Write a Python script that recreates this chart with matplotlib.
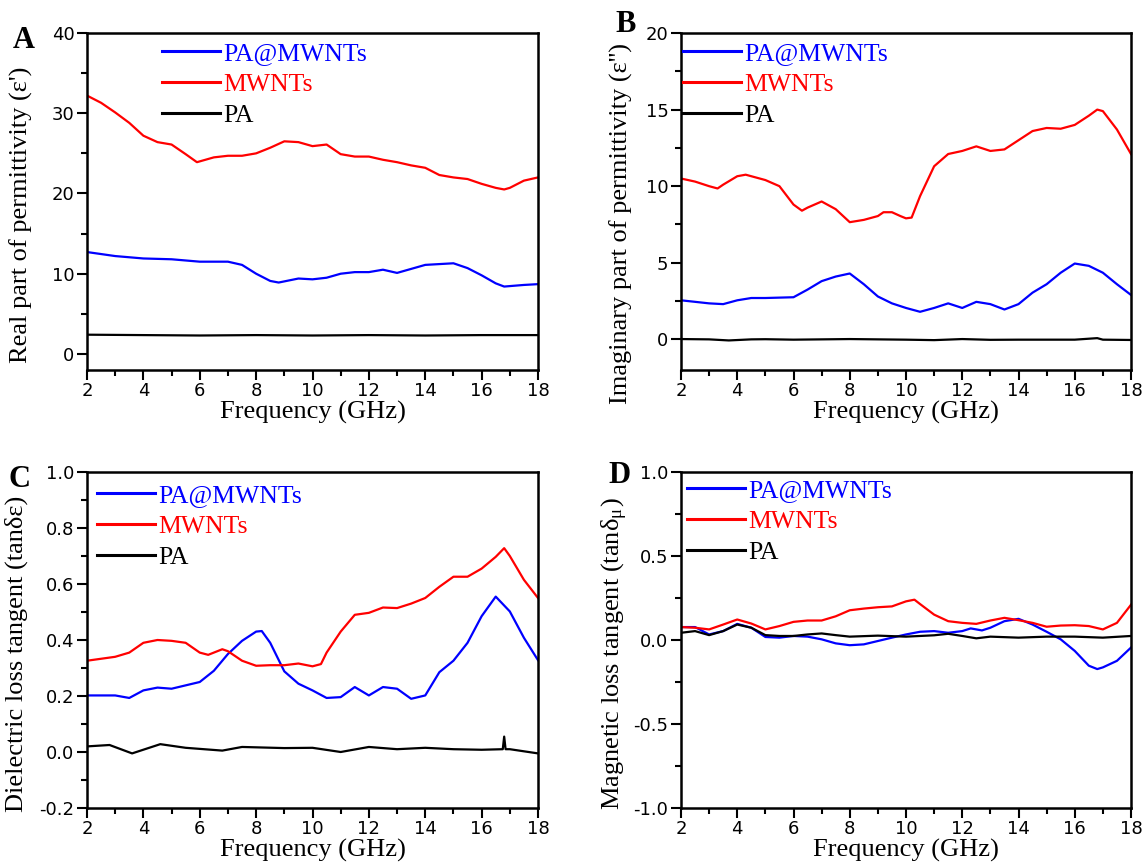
import matplotlib
matplotlib.use("Agg")
import matplotlib.pyplot as plt
from matplotlib.ticker import MultipleLocator, FormatStrFormatter

plt.rcParams['font.family'] = 'Liberation Serif'
plt.rcParams['mathtext.fontset'] = 'stix'

labels = ["PA@MWNTs", "MWNTs", "PA"]
colors = ["#0000ff", "#ff0000", "#000000"]

# A: real part of permittivity
a_blue_x = [2, 3, 4, 5, 6, 7, 7.5, 8, 8.5, 8.8, 9.5, 10, 10.5, 11, 11.5, 12, 12.5, 13, 13.5, 14, 14.5, 15, 15.5, 16, 16.5, 16.8, 17.5, 18]
a_blue_y = [12.7, 12.2, 11.9, 11.8, 11.5, 11.5, 11.1, 10.0, 9.1, 8.9, 9.4, 9.3, 9.5, 10.0, 10.2, 10.2, 10.5, 10.1, 10.6, 11.1, 11.2, 11.3, 10.7, 9.8, 8.8, 8.4, 8.6, 8.7]
a_red_x = [2, 2.5, 3, 3.5, 4, 4.5, 5, 5.5, 5.9, 6.5, 7, 7.5, 8, 8.5, 9, 9.5, 10, 10.5, 11, 11.5, 12, 12.5, 13, 13.5, 14, 14.5, 15, 15.5, 16, 16.5, 16.8, 17, 17.5, 18]
a_red_y = [32.2, 31.3, 30.1, 28.8, 27.2, 26.4, 26.1, 24.9, 23.9, 24.5, 24.7, 24.7, 25.0, 25.7, 26.5, 26.4, 25.9, 26.1, 24.9, 24.6, 24.6, 24.2, 23.9, 23.5, 23.2, 22.3, 22.0, 21.8, 21.2, 20.7, 20.5, 20.7, 21.6, 22.0]
a_black_x = [2, 4, 6, 8, 10, 12, 14, 16, 18]
a_black_y = [2.4, 2.35, 2.3, 2.35, 2.3, 2.35, 2.3, 2.35, 2.35]

# B: imaginary part of permittivity
b_blue_x = [2, 3, 3.5, 4, 4.5, 5, 6, 6.5, 7, 7.5, 8, 8.5, 9, 9.5, 10, 10.5, 11, 11.5, 12, 12.5, 13, 13.5, 14, 14.5, 15, 15.5, 16, 16.5, 17, 17.5, 18]
b_blue_y = [2.55, 2.35, 2.3, 2.55, 2.7, 2.7, 2.75, 3.25, 3.8, 4.1, 4.3, 3.6, 2.8, 2.35, 2.05, 1.8, 2.05, 2.35, 2.05, 2.45, 2.3, 1.95, 2.3, 3.05, 3.6, 4.35, 4.95, 4.8, 4.35, 3.6, 2.9]
b_red_x = [2, 2.5, 3, 3.3, 3.5, 4, 4.3, 4.5, 5, 5.5, 6, 6.3, 6.5, 7, 7.5, 8, 8.5, 9, 9.2, 9.5, 9.8, 10, 10.2, 10.5, 11, 11.5, 12, 12.5, 13, 13.5, 14, 14.5, 15, 15.5, 16, 16.5, 16.8, 17, 17.5, 18]
b_red_y = [10.5, 10.3, 10.0, 9.85, 10.1, 10.65, 10.75, 10.65, 10.4, 10.0, 8.8, 8.4, 8.6, 9.0, 8.5, 7.65, 7.8, 8.05, 8.3, 8.3, 8.05, 7.9, 7.95, 9.35, 11.3, 12.1, 12.3, 12.6, 12.3, 12.4, 13.0, 13.6, 13.8, 13.75, 14.0, 14.6, 15.0, 14.9, 13.7, 12.1]
b_black_x = [2, 3, 3.7, 4.5, 5, 6, 7, 8, 9, 10, 11, 12, 13, 14, 15, 16, 16.8, 17, 18]
b_black_y = [0.02, 0.0, -0.07, 0.0, 0.01, -0.02, 0.0, 0.02, 0.0, -0.02, -0.05, 0.02, -0.03, -0.02, -0.02, -0.02, 0.08, -0.02, -0.04]

# C: dielectric loss tangent
c_blue_x = [2, 3, 3.5, 4, 4.5, 5, 6, 6.5, 7, 7.5, 8, 8.2, 8.5, 9, 9.5, 10, 10.5, 11, 11.5, 12, 12.5, 13, 13.5, 14, 14.5, 15, 15.5, 16, 16.5, 17, 17.5, 18]
c_blue_y = [0.202, 0.202, 0.193, 0.22, 0.23, 0.226, 0.25, 0.29, 0.35, 0.397, 0.43, 0.432, 0.39, 0.288, 0.244, 0.22, 0.193, 0.196, 0.232, 0.202, 0.232, 0.226, 0.19, 0.202, 0.285, 0.326, 0.39, 0.485, 0.555, 0.502, 0.408, 0.328]
c_red_x = [2, 3, 3.5, 4, 4.5, 5, 5.5, 6, 6.3, 6.8, 7, 7.5, 8, 8.5, 9, 9.5, 10, 10.3, 10.5, 11, 11.5, 12, 12.5, 13, 13.5, 14, 14.5, 15, 15.5, 16, 16.5, 16.8, 17, 17.5, 18]
c_red_y = [0.326, 0.34, 0.355, 0.39, 0.40, 0.397, 0.39, 0.355, 0.347, 0.367, 0.36, 0.326, 0.308, 0.31, 0.31, 0.316, 0.306, 0.314, 0.355, 0.43, 0.49, 0.497, 0.516, 0.514, 0.53, 0.55, 0.59, 0.626, 0.626, 0.655, 0.697, 0.728, 0.70, 0.615, 0.55]
c_black_x = [2, 2.8, 3.6, 4.6, 5.5, 6.8, 7.5, 9, 10, 11, 12, 13, 14, 15, 16, 16.75, 16.8, 16.85, 17, 18]
c_black_y = [0.02, 0.025, -0.005, 0.028, 0.015, 0.005, 0.018, 0.014, 0.015, 0.0, 0.018, 0.01, 0.015, 0.01, 0.008, 0.01, 0.055, 0.01, 0.01, -0.005]

# D: magnetic loss tangent
d_blue_x = [2, 2.5, 3, 3.5, 4, 4.5, 5, 5.5, 6, 6.5, 7, 7.5, 8, 8.5, 9, 9.5, 10, 10.5, 11, 11.5, 12, 12.3, 12.7, 13, 13.5, 14, 14.5, 15, 15.5, 16, 16.5, 16.8, 17, 17.5, 18]
d_blue_y = [0.077, 0.077, 0.033, 0.053, 0.096, 0.073, 0.018, 0.014, 0.024, 0.02, 0.004, -0.02, -0.031, -0.026, -0.006, 0.014, 0.033, 0.049, 0.053, 0.043, 0.053, 0.069, 0.057, 0.073, 0.112, 0.126, 0.092, 0.049, 0.004, -0.065, -0.153, -0.173, -0.163, -0.124, -0.045]
d_red_x = [2, 2.5, 3, 3.5, 4, 4.5, 5, 5.5, 6, 6.5, 7, 7.5, 8, 8.5, 9, 9.5, 10, 10.3, 10.5, 11, 11.5, 12, 12.5, 13, 13.5, 14, 14.5, 15, 15.5, 16, 16.5, 17, 17.5, 18]
d_red_y = [0.077, 0.073, 0.063, 0.092, 0.122, 0.098, 0.063, 0.083, 0.108, 0.116, 0.116, 0.141, 0.177, 0.187, 0.195, 0.2, 0.23, 0.24, 0.214, 0.151, 0.112, 0.102, 0.096, 0.116, 0.132, 0.118, 0.102, 0.079, 0.086, 0.088, 0.083, 0.063, 0.102, 0.21]
d_black_x = [2, 2.5, 3, 3.5, 4, 4.5, 5, 5.5, 6, 6.5, 7, 7.5, 8, 9, 10, 11, 11.5, 12, 12.5, 13, 14, 15, 16, 17, 18]
d_black_y = [0.043, 0.053, 0.029, 0.053, 0.092, 0.073, 0.029, 0.024, 0.024, 0.033, 0.039, 0.029, 0.02, 0.026, 0.02, 0.028, 0.037, 0.024, 0.01, 0.02, 0.014, 0.02, 0.02, 0.014, 0.024]

W, H = 1148, 868
fig = plt.figure(figsize=(W / 100, H / 100), dpi=100)


def make_ax(left, top, right, bottom):
    return fig.add_axes([left / W, 1 - bottom / H, (right - left) / W, (bottom - top) / H])


panels = [
    dict(box=(87, 33, 538, 370), data=[(a_blue_x, a_blue_y), (a_red_x, a_red_y), (a_black_x, a_black_y)],
         ylim=(-2, 40), major=10, minor=5, fmt="%d", ylabel="Real part of permittivity (ε')",
         letter="A", lpos=(13, 48), leg=(0.166, 0.972), ylx=-0.12, yly=0.46),
    dict(box=(681, 33, 1131, 370), data=[(b_blue_x, b_blue_y), (b_red_x, b_red_y), (b_black_x, b_black_y)],
         ylim=(-2, 20), major=5, minor=2.5, fmt="%d", ylabel="Imaginary part of permittivity (ε'')",
         letter="B", lpos=(615, 32), leg=(0.004, 0.972), ylx=-0.107, yly=0.435),
    dict(box=(87, 472, 538, 808), data=[(c_blue_x, c_blue_y), (c_red_x, c_red_y), (c_black_x, c_black_y)],
         ylim=(-0.2, 1.0), major=0.2, minor=0.1, fmt="%.1f", ylabel="Dielectric loss tangent (tanδε)",
         letter="C", lpos=(8, 487), leg=(0.022, 0.965), ylx=-0.131, yly=0.46),
    dict(box=(681, 472, 1131, 808), data=[(d_blue_x, d_blue_y), (d_red_x, d_red_y), (d_black_x, d_black_y)],
         ylim=(-1.0, 1.0), major=0.5, minor=0.25, fmt="%.1f",
         ylabel=r"Magnetic loss tangent (tanδ$_\mathregular{μ}$)",
         letter="D", lpos=(608, 483), leg=(0.013, 0.98), ylx=-0.113, yly=0.46),
]

for p in panels:
    ax = make_ax(*p["box"])
    for (x, y), lab, col in zip(p["data"], labels, colors):
        ax.plot(x, y, color=col, lw=1.6, label=lab)
    ax.set_xlim(2, 18)
    ax.set_ylim(*p["ylim"])
    ax.xaxis.set_major_locator(MultipleLocator(2))
    ax.xaxis.set_minor_locator(MultipleLocator(1))
    ax.yaxis.set_major_locator(MultipleLocator(p["major"]))
    ax.yaxis.set_minor_locator(MultipleLocator(p["minor"]))
    ax.yaxis.set_major_formatter(FormatStrFormatter(p["fmt"]))
    ax.tick_params(which="both", direction="out", top=False, right=False, width=1.5)
    ax.tick_params(which="major", length=7, labelsize=13, pad=2)
    ax.tick_params(which="minor", length=4)
    for t in ax.get_xticklabels() + ax.get_yticklabels():
        t.set_family("DejaVu Sans")
    for s in ax.spines.values():
        s.set_linewidth(1.8)
    ax.set_xlabel("Frequency (GHz)", fontsize=19, labelpad=0)
    ax.set_ylabel(p["ylabel"], fontsize=19)
    ax.yaxis.set_label_coords(p["ylx"], p["yly"])
    leg = ax.legend(loc="upper left", bbox_to_anchor=p["leg"], frameon=False, fontsize=18.5,
                    handlelength=2.25, handletextpad=0.15, labelspacing=0.31, borderpad=0,
                    borderaxespad=0, labelcolor="linecolor")
    for h in leg.get_lines():
        h.set_linewidth(2.2)
    fig.text(p["lpos"][0] / W, 1 - p["lpos"][1] / H, p["letter"], fontsize=22, fontweight="bold",
             ha="left", va="baseline")

fig.savefig("out.png", dpi=100)
